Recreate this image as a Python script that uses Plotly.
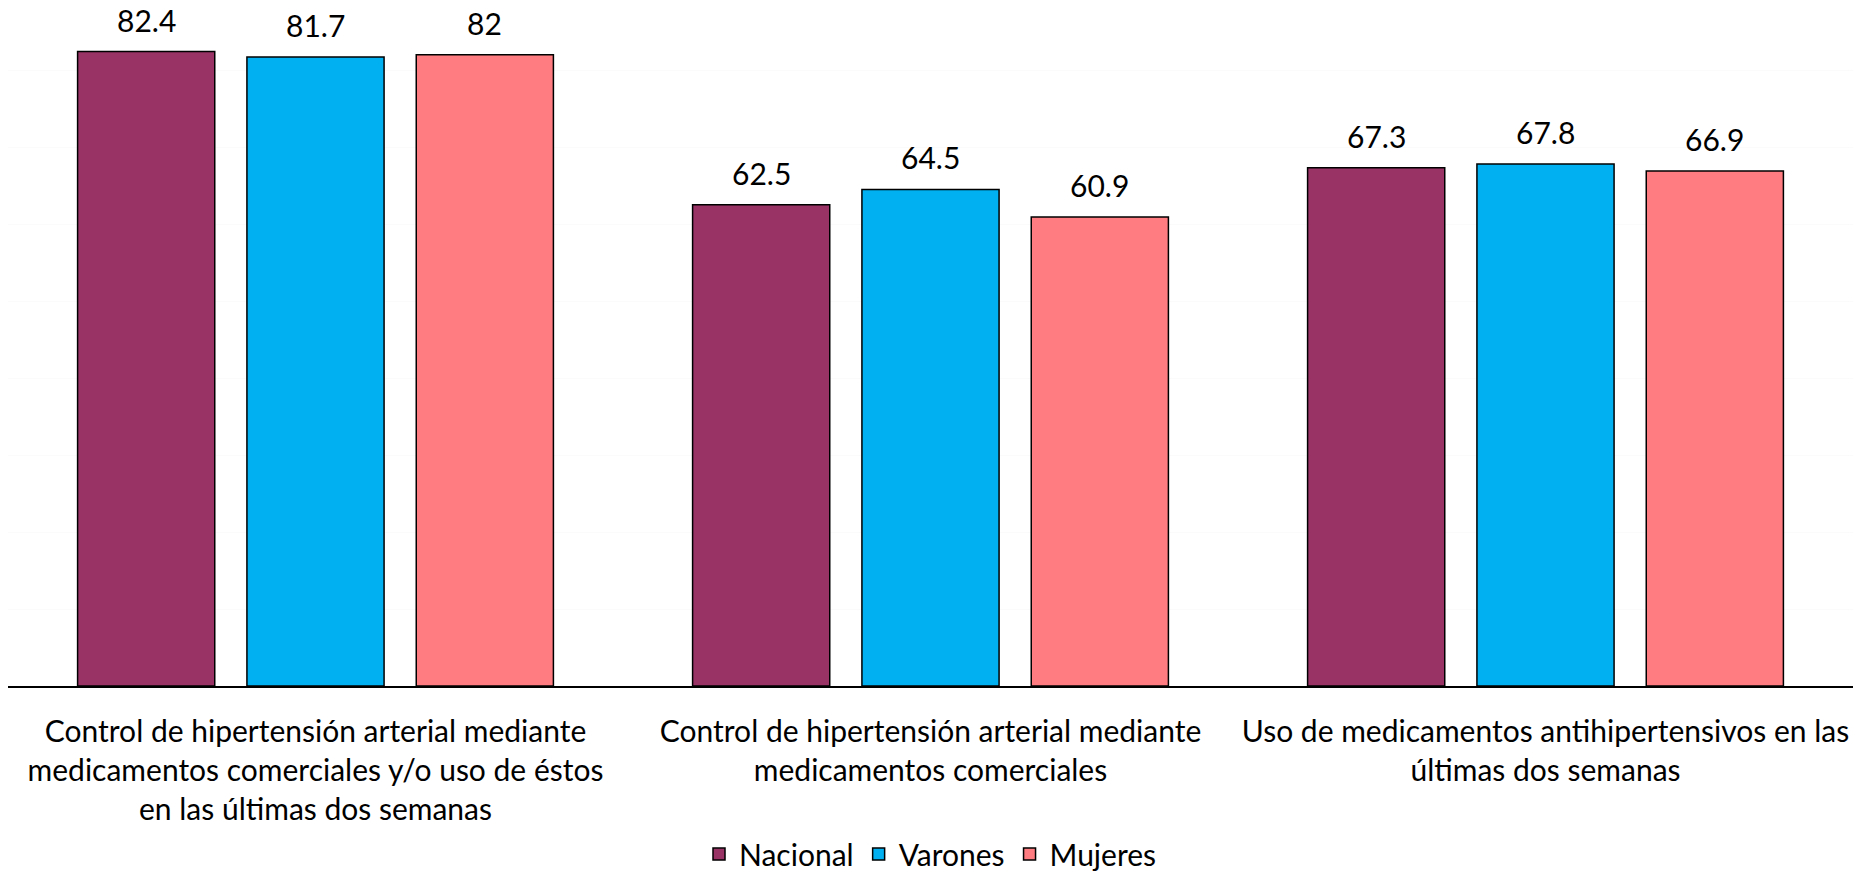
import plotly.graph_objects as go

# Indicators shown on the x axis
categories = [
    "Control de hipertensión arterial mediante<br>medicamentos comerciales y/o uso de éstos<br>en las últimas dos semanas",
    "Control de hipertensión arterial mediante<br>medicamentos comerciales",
    "Uso de medicamentos antihipertensivos en las<br>últimas dos semanas",
]

# Percentages by group
series_names = ["Nacional", "Varones", "Mujeres"]
nacional = [82.4, 62.5, 67.3]
varones = [81.7, 64.5, 67.8]
mujeres = [82, 60.9, 66.9]
series_values = [nacional, varones, mujeres]
series_colors = ["#993366", "#00B0F0", "#FF7C80"]

FONT = "Lato"
FSIZE = 30
BARGAP = 0.174
BARGROUPGAP = 0.19

x_pos = list(range(len(categories)))

fig = go.Figure()
for name, vals, color in zip(series_names, series_values, series_colors):
    fig.add_trace(go.Bar(
        name=name,
        x=x_pos,
        y=vals,
        marker=dict(color=color, line=dict(color="black", width=1.5)),
        hoverinfo="y+name",
    ))

# Value labels above each bar, centred on the bar's slot within its group
n = len(series_names)
slot = (1 - BARGAP) / n
annotations = []
for i, vals in enumerate(series_values):
    for j, v in enumerate(vals):
        annotations.append(dict(
            x=j + (i - (n - 1) / 2) * slot,
            y=v,
            xref="x", yref="y",
            text=f"{v:g}",
            showarrow=False,
            yanchor="bottom",
            yshift=12,
            font=dict(family=FONT, size=FSIZE, color="black"),
        ))

fig.update_layout(
    width=1875,
    height=872,
    margin=dict(l=8, r=22, t=0, b=186, autoexpand=False),
    paper_bgcolor="white",
    plot_bgcolor="white",
    barmode="group",
    bargap=BARGAP,
    bargroupgap=BARGROUPGAP,
    font=dict(family=FONT, size=FSIZE, color="black"),
    showlegend=True,
    legend=dict(
        orientation="h",
        x=0.5, xanchor="center",
        y=-0.245, yanchor="middle",
        font=dict(family=FONT, size=FSIZE, color="black"),
        itemclick=False,
    ),
    annotations=annotations,
    xaxis=dict(
        range=[-0.5, len(categories) - 0.5],
        tickmode="array",
        tickvals=x_pos,
        ticktext=categories,
        showgrid=False,
        zeroline=False,
        showline=True,
        linecolor="black",
        linewidth=2,
        ticks="",
        ticklabelstandoff=18,
        tickfont=dict(family=FONT, size=FSIZE, color="black"),
    ),
    yaxis=dict(
        range=[0, 89.1],
        dtick=10,
        showticklabels=False,
        showgrid=True,
        gridcolor="#FBFBFB",
        gridwidth=1,
        zeroline=False,
        showline=False,
        ticks="",
    ),
)

fig.write_html("out.html")
